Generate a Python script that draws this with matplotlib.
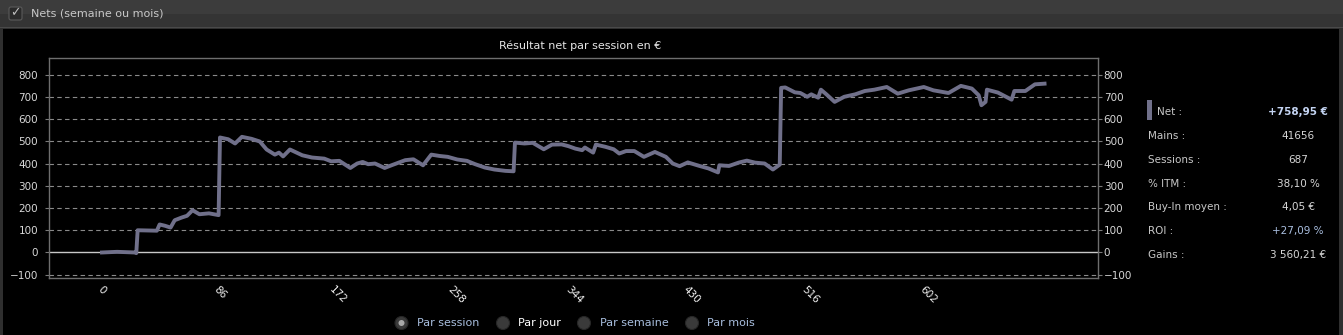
import matplotlib
matplotlib.use("Agg")
import matplotlib.pyplot as plt
from matplotlib.patches import Rectangle, Circle, FancyBboxPatch
from matplotlib.transforms import IdentityTransform

# cumulative net result (EUR) read at a set of sessions
sessions = [0, 11, 24, 25, 26, 40, 42, 46, 50, 53, 58, 62, 66, 71, 78, 85, 86, 92, 97, 102,
            109, 115, 120, 126, 129, 132, 137, 146, 153, 162, 167, 173, 181, 186, 190, 194,
            199, 206, 211, 221, 227, 234, 240, 246, 252, 259, 266, 272, 279, 286, 294, 300,
            301, 308, 314, 322, 328, 335, 340, 345, 350, 352, 358, 360, 367, 373, 377, 382,
            388, 395, 403, 411, 416, 421, 427, 435, 442, 449, 450, 457, 464, 470, 476, 483,
            489, 494, 495, 498, 505, 509, 514, 517, 522, 524, 528, 534, 541, 549, 556, 563,
            572, 580, 588, 599, 606, 617, 626, 634, 639, 641, 644, 645, 653, 663, 665, 673,
            680, 687]
net = [0, 3, 0, -3, 100, 98, 126, 120, 112, 145, 157, 165, 190, 172, 176, 168, 517, 509, 490, 520,
       511, 499, 463, 440, 449, 432, 463, 437, 427, 422, 410, 412, 380, 400, 407, 397,
       400, 380, 392, 415, 419, 392, 440, 434, 430, 418, 412, 397, 382, 373, 367, 365,
       494, 490, 493, 464, 485, 486, 478, 467, 460, 472, 449, 485, 475, 464, 445, 456,
       456, 430, 452, 430, 400, 388, 405, 390, 378, 360, 392, 389, 404, 413, 404, 400,
       373, 395, 740, 742, 720, 717, 700, 711, 696, 732, 711, 677, 700, 711, 726, 732,
       744, 714, 729, 744, 729, 717, 749, 737, 707, 662, 677, 732, 719, 687, 726, 726,
       756, 759]

x_ticks = [0, 86, 172, 258, 344, 430, 516, 602]
y_ticks = [-100, 0, 100, 200, 300, 400, 500, 600, 700, 800]

stat_labels = ["Mains :", "Sessions :", "% ITM :", "Buy-In moyen :", "ROI :", "Gains :"]
stat_values = ["41656", "687", "38,10 %", "4,05 €", "+27,09 %", "3 560,21 €"]
net_value = "+758,95 €"
modes = ["Par session", "Par jour", "Par semaine", "Par mois"]

W, H = 1343, 335
LINE = "#70708a"

fig = plt.figure(figsize=(W / 100, H / 100), dpi=100, facecolor="#2f2f2f")


def fx(x):
    return x / W


def fy(y):
    return 1 - y / H


# header bar and black body (behind the axes)
fig.add_artist(Rectangle((0, fy(14)), 1, 14 / H, transform=fig.transFigure,
                         facecolor="#3c3c3c", edgecolor="none", zorder=-3))
fig.add_artist(Rectangle((0, fy(27)), 1, 13 / H, transform=fig.transFigure,
                         facecolor="#343434", edgecolor="none", zorder=-3))
fig.add_artist(Rectangle((0, fy(28)), 1, 1 / H, transform=fig.transFigure,
                         facecolor="#4a4a4a", edgecolor="none", zorder=-3))
fig.add_artist(Rectangle((fx(3), 0), fx(1336), fy(29), transform=fig.transFigure,
                         facecolor="#000000", edgecolor="none", zorder=-3))
fig.add_artist(FancyBboxPatch((9, H - 20), 13, 13, boxstyle="round,pad=0,rounding_size=2",
                              transform=IdentityTransform(), facecolor="#2a2a2a",
                              edgecolor="#5a5a5a", linewidth=0.8))
fig.text(fx(15.5), fy(13), "✓", color="#bdbdbd", fontsize=9, ha="center", va="center",
         fontweight="bold")
fig.text(fx(31), fy(13), "Nets (semaine ou mois)", color="#c8c8c8", fontsize=8, va="center")

# main chart
ax = fig.add_axes([fx(49.3), fy(278.3), fx(1097.5 - 49.3), (278.3 - 58.3) / H])
ax.set_facecolor("#000000")
ax.plot(sessions, net, color=LINE, linewidth=2.8, solid_joinstyle="round", zorder=3)
ax.set_xlim(-38.4, 725.6)
ax.set_ylim(-116, 873)
ax.set_yticks(y_ticks)
ax.set_xticks(x_ticks)
ax.set_xticklabels([str(t) for t in x_ticks], rotation=-45, ha="center", va="top",
                   color="#f0f0f0", fontsize=7.5)
ax.tick_params(axis="x", length=0, pad=4)
ax.tick_params(axis="y", colors="#7a7a7a", length=3, width=0.8, labelsize=7.5,
               labelcolor="#d8d8d8", pad=5)
for v in y_ticks:
    if v == 0:
        ax.axhline(0, color="#c8c8c8", linewidth=1, zorder=2)
    else:
        ax.axhline(v, color="#8a8a8a", linewidth=0.8, linestyle=(0, (4, 3)), zorder=1)
for s in ax.spines.values():
    s.set_color("#6e6e6e")
    s.set_linewidth(1)

ax2 = ax.twinx()
ax2.set_ylim(ax.get_ylim())
ax2.set_yticks(y_ticks)
ax2.tick_params(axis="y", colors="#7a7a7a", length=3, width=0.8, labelsize=7.5,
                labelcolor="#d8d8d8", pad=1.5)
for s in ax2.spines.values():
    s.set_visible(False)

fig.text(fx(580), fy(46), "Résultat net par session en €", color="#e6e6e6", fontsize=8,
         ha="center", va="center")

# stats panel
fig.add_artist(Rectangle((fx(1147), fy(120)), fx(4.7), 20 / H, transform=fig.transFigure,
                         facecolor=LINE, edgecolor="none"))
fig.text(fx(1157), fy(111.7), "Net :", color="#c8c8c8", fontsize=7.5, va="center")
fig.text(fx(1298), fy(111.7), net_value, color="#c4d4f2", fontsize=7.5, va="center",
         ha="center", fontweight="bold")
for i, (lab, val) in enumerate(zip(stat_labels, stat_values)):
    y = 135.7 + i * 23.9
    fig.text(fx(1148), fy(y), lab, color="#c8c8c8", fontsize=7.5, va="center")
    col = "#aabfe0" if lab.startswith("ROI") else "#d6d6d6"
    fig.text(fx(1298), fy(y), val, color=col, fontsize=7.5, va="center", ha="center")

# period selector
circle_x = [401.5, 503, 584, 692]
text_col = ["#a8bede", "#ffffff", "#a8bede", "#a8bede"]
for i, (m, cx) in enumerate(zip(modes, circle_x)):
    fig.add_artist(Circle((cx, H - 323), 6.5, transform=IdentityTransform(),
                          facecolor="#3a3a3a", edgecolor="#262626", linewidth=0.8))
    if i == 0:
        fig.add_artist(Circle((cx, H - 323), 3, transform=IdentityTransform(),
                              facecolor="#a8a8a8", edgecolor="none"))
    fig.text(fx(cx + 15.5), fy(323), m, color=text_col[i], fontsize=8, va="center")

fig.savefig("out.png", dpi=100, facecolor=fig.get_facecolor())
